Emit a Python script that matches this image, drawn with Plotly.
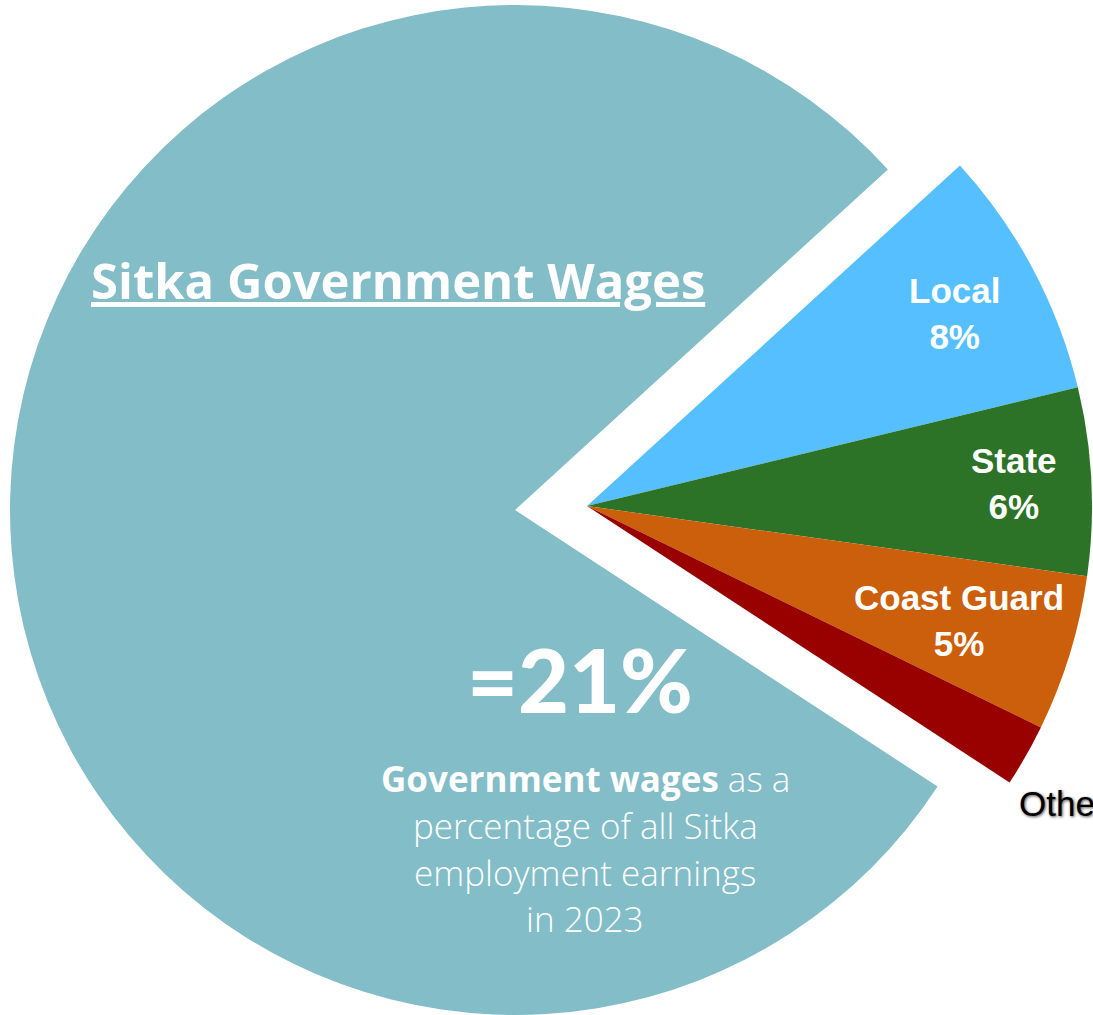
import plotly.graph_objects as go

# Sitka government wages as a share of all employment earnings, 2023 (%)
sectors = ["Local", "State", "Coast Guard", "Other"]
sector_pct = [8, 6, 5, 2]
rest_label = "All other earnings"
rest_pct = 79

labels = sectors + [rest_label]
values = sector_pct + [rest_pct]

sector_colors = ["#55BFFF", "#2D7327", "#CC5F0B", "#990000"]
rest_color = "#82BDC8"
clear = "rgba(0,0,0,0)"

W, H = 1093, 1015


def px_x(x):
    return x / W


def px_y(y):
    return 1 - y / H


common = dict(
    labels=labels,
    values=values,
    sort=False,
    direction="clockwise",
    rotation=47.6,
    textinfo="none",
    hoverinfo="skip",
    showlegend=False,
    marker_line_width=0,
)

fig = go.Figure()

# Large remaining-earnings slice, offset to the left
fig.add_trace(go.Pie(
    **common,
    marker_colors=[clear] * len(sectors) + [rest_color],
    domain=dict(x=[10 / W, 1020 / W], y=[0, 1 - 5 / H]),
))

# Government sector slices, separated out to the right
fig.add_trace(go.Pie(
    **common,
    marker_colors=sector_colors + [clear],
    domain=dict(x=[82 / W, 1092 / W], y=[1 - 1011 / H, 1 - 1 / H]),
))

annotations = []

# Sector labels (pixel centres for the in-slice labels)
label_px = [(954, 313), (1014, 483), (959, 620)]
for name, pct, (lx, ly) in zip(sectors[:3], sector_pct[:3], label_px):
    annotations.append(dict(
        x=px_x(lx), y=px_y(ly), xref="paper", yref="paper",
        text=f"<b>{name}<br>{pct}%</b>", showarrow=False,
        xanchor="center", yanchor="middle", align="center",
        font=dict(family="Liberation Sans, Arial", size=35, color="white"),
    ))

# Small "Other" slice labelled outside the pie
annotations.append(dict(
    x=px_x(1017), y=px_y(803), xref="paper", yref="paper",
    text=f"{sectors[3]} {sector_pct[3]}%", showarrow=False,
    xanchor="left", yanchor="middle",
    font=dict(family="Liberation Sans, Arial", size=35, color="black",
              shadow="1px 1px 3px rgba(0,0,0,0.7)"),
))

# Heading
annotations.append(dict(
    x=px_x(398), y=px_y(280), xref="paper", yref="paper",
    text="Sitka Government Wages", showarrow=False,
    xanchor="center", yanchor="middle",
    font=dict(family="Open Sans", size=49, color="white", weight=700,
              lineposition="under"),
))

# Total share
total = sum(sector_pct)
annotations.append(dict(
    x=px_x(580), y=px_y(679), xref="paper", yref="paper",
    text=f"={total}%", showarrow=False,
    xanchor="center", yanchor="middle",
    font=dict(family="Lato", size=88, color="white", weight=900),
))

# Caption lines
caption = [
    "<b>Government wages</b> as a",
    "percentage of all Sitka",
    "employment earnings",
    "in 2023",
]
caption_y = [778, 825, 872, 918]
for line, cy in zip(caption, caption_y):
    annotations.append(dict(
        x=px_x(585), y=px_y(cy), xref="paper", yref="paper",
        text=line, showarrow=False,
        xanchor="center", yanchor="middle",
        font=dict(family="Open Sans", size=35, color="white", weight=300),
    ))

fig.update_layout(
    width=W, height=H,
    margin=dict(l=0, r=0, t=0, b=0),
    paper_bgcolor="white",
    plot_bgcolor="white",
    annotations=annotations,
)

fig.write_html("out.html")
